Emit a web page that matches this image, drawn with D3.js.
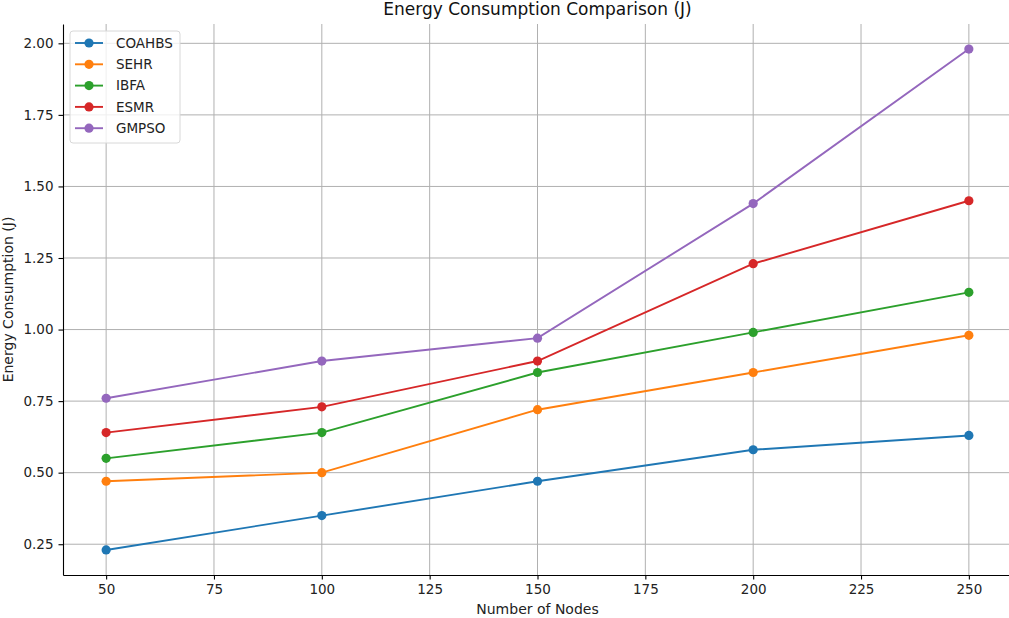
<!DOCTYPE html>
<html lang="en">
<head>
<meta charset="UTF-8">
<title>Energy Consumption Comparison (J)</title>
<style>
  body { margin: 0; background: #fff; }
  svg { display: block; font-family: "DejaVu Sans", sans-serif; }
  .grid line { stroke: #b0b0b0; stroke-width: 1; }
  .tick text { fill: #222; font-size: 13.5px; }
</style>
</head>
<body>
<svg width="1009" height="618"></svg>
<script src="https://d3js.org/d3.v7.min.js"></script>
<script>
const nodes = [50, 100, 150, 200, 250];
const seriesNames = ["COAHBS", "SEHR", "IBFA", "ESMR", "GMPSO"];
const coahbs = [0.23, 0.35, 0.47, 0.58, 0.63];
const sehr = [0.47, 0.50, 0.72, 0.85, 0.98];
const ibfa = [0.55, 0.64, 0.85, 0.99, 1.13];
const esmr = [0.64, 0.73, 0.89, 1.23, 1.45];
const gmpso = [0.76, 0.89, 0.97, 1.44, 1.98];
const xTicks = [50, 75, 100, 125, 150, 175, 200, 225, 250];
const yTicks = [0.25, 0.50, 0.75, 1.00, 1.25, 1.50, 1.75, 2.00];
const colors = ["#1f77b4", "#ff7f0e", "#2ca02c", "#d62728", "#9467bd"];

const allSeries = [coahbs, sehr, ibfa, esmr, gmpso];

const svg = d3.select("svg");
const mLeft = 63, mRight = 1012, mTop = 24, mBottom = 575;

const x = d3.scaleLinear().domain([40, 260]).range([mLeft, mRight]);
const y = d3.scaleLinear().domain([0.1425, 2.0675]).range([mBottom, mTop]);

// grid
const grid = svg.append("g").attr("class", "grid");
grid.selectAll(".gx").data(xTicks).join("line")
  .attr("x1", d => x(d)).attr("x2", d => x(d))
  .attr("y1", mTop).attr("y2", mBottom);
grid.selectAll(".gy").data(yTicks).join("line")
  .attr("x1", mLeft).attr("x2", mRight)
  .attr("y1", d => y(d)).attr("y2", d => y(d));

// axes
const xAxis = svg.append("g")
  .attr("transform", `translate(0,${mBottom})`)
  .call(d3.axisBottom(x).tickValues(xTicks).tickSizeInner(4.5).tickSizeOuter(0).tickPadding(5).tickFormat(d3.format("d")));
const yAxis = svg.append("g")
  .attr("transform", `translate(${mLeft},0)`)
  .call(d3.axisLeft(y).tickValues(yTicks).tickSizeInner(4.5).tickSizeOuter(0).tickPadding(5).tickFormat(d3.format(".2f")));
[xAxis, yAxis].forEach(a => {
  a.select(".domain").attr("stroke", "#000").attr("stroke-width", 1.1);
  a.selectAll(".tick line").attr("stroke", "#000").attr("stroke-width", 1.1);
  a.attr("font-family", null).attr("font-size", null);
});

// lines
const line = d3.line().x((d, i) => x(nodes[i])).y(d => y(d));
allSeries.forEach((vals, k) => {
  svg.append("path").datum(vals)
    .attr("fill", "none").attr("stroke", colors[k]).attr("stroke-width", 1.9)
    .attr("d", line);
  svg.selectAll(null).data(vals).join("circle")
    .attr("cx", (d, i) => x(nodes[i])).attr("cy", d => y(d))
    .attr("r", 4.6).attr("fill", colors[k]);
});

// titles
svg.append("text").attr("x", (mLeft + mRight) / 2).attr("y", 15)
  .attr("text-anchor", "middle").attr("font-size", 17).attr("fill", "#111")
  .text("Energy Consumption Comparison (J)");
svg.append("text").attr("x", (mLeft + mRight) / 2).attr("y", 614)
  .attr("text-anchor", "middle").attr("font-size", 14).attr("fill", "#222")
  .text("Number of Nodes");
svg.append("text").attr("transform", `translate(13,${(mTop + mBottom) / 2}) rotate(-90)`)
  .attr("text-anchor", "middle").attr("font-size", 14).attr("fill", "#222")
  .text("Energy Consumption (J)");

// legend
const lg = svg.append("g").attr("transform", "translate(70,31)");
lg.append("rect").attr("width", 110).attr("height", 112).attr("rx", 3)
  .attr("fill", "#fff").attr("fill-opacity", 0.8).attr("stroke", "#d8d8d8");
seriesNames.forEach((name, k) => {
  const yy = 12 + k * 21.3;
  lg.append("line").attr("x1", 5).attr("x2", 33).attr("y1", yy).attr("y2", yy)
    .attr("stroke", colors[k]).attr("stroke-width", 1.9);
  lg.append("circle").attr("cx", 19).attr("cy", yy).attr("r", 4.6).attr("fill", colors[k]);
  lg.append("text").attr("x", 46).attr("y", yy).attr("dy", "0.35em")
    .attr("font-size", 13.5).attr("fill", "#222").text(name);
});
</script>
</body>
</html>
